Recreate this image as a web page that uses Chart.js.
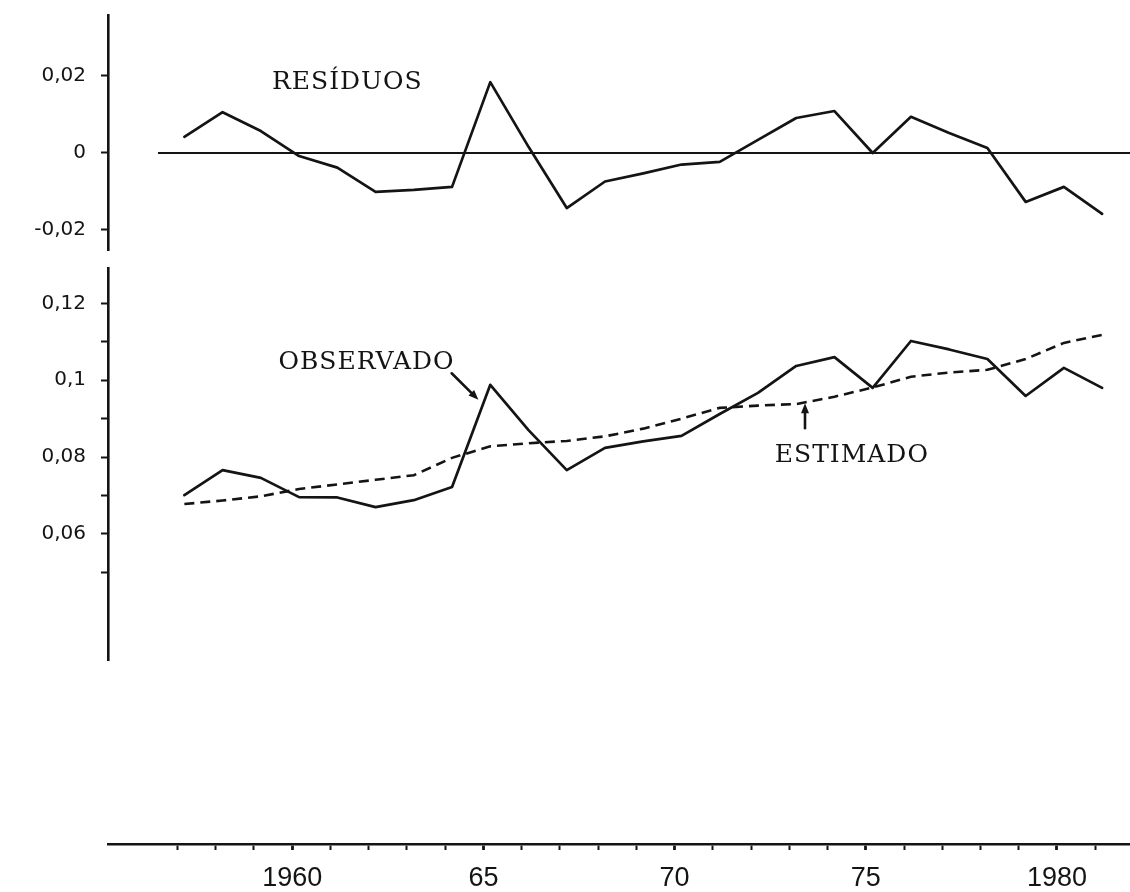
<!DOCTYPE html>
<html lang="pt">
<head>
<meta charset="utf-8">
<title>Resíduos, observado e estimado</title>
<script src="https://cdn.jsdelivr.net/npm/chart.js@4.4.1/dist/chart.umd.min.js"></script>
<style>
  html, body { margin: 0; padding: 0; background: #ffffff; }
  #wrap { width: 1130px; height: 892px; }
</style>
</head>
<body>
<div id="wrap"><canvas id="chart" width="1130" height="892"></canvas></div>
<script>
// Annual series, 1957-1981
const years = [1957, 1958, 1959, 1960, 1961, 1962, 1963, 1964, 1965, 1966, 1967, 1968, 1969,
               1970, 1971, 1972, 1973, 1974, 1975, 1976, 1977, 1978, 1979, 1980, 1981];

const residuos = [0.0042, 0.0106, 0.0057, -0.0008, -0.0038, -0.0101, -0.0096, -0.0088, 0.0184,
                  0.0016, -0.0143, -0.0074, -0.0053, -0.0030, -0.0023, 0.0034, 0.0091, 0.0109,
                  0.0000, 0.0094, 0.0052, 0.0013, -0.0127, -0.0088, -0.0158];

const observado = [0.0701, 0.0766, 0.0746, 0.0696, 0.0695, 0.0670, 0.0688, 0.0722, 0.0988,
                   0.0870, 0.0766, 0.0824, 0.0841, 0.0855, 0.0912, 0.0967, 0.1037, 0.1060,
                   0.0980, 0.1102, 0.1080, 0.1055, 0.0959, 0.1032, 0.0980];

const estimado = [0.0678, 0.0687, 0.0698, 0.0717, 0.0729, 0.0741, 0.0753, 0.0798, 0.0828,
                  0.0836, 0.0842, 0.0854, 0.0874, 0.0900, 0.0928, 0.0934, 0.0938, 0.0957,
                  0.0981, 0.1009, 0.1020, 0.1027, 0.1055, 0.1097, 0.1118];

// Axis ticks and their labels
const resTicks = [-0.02, 0, 0.02];
const resTickLabels = ['-0,02', '0', '0,02'];
const obsTicks = [0.05, 0.06, 0.07, 0.08, 0.09, 0.10, 0.11, 0.12];
const obsTickLabels = ['', '0,06', '', '0,08', '', '0,1', '', '0,12'];
const yearTicks = years.slice();
const yearLabelAt = [1960, 1965, 1970, 1975, 1980];
const yearLabelText = ['1960', '65', '70', '75', '1980'];

// Text labels and pointer arrows, in data coordinates of each panel
const notes = [
  { text: 'RESÍDUOS',  axis: 'yRes', x: 1959.47, y: 0.0166 },
  { text: 'OBSERVADO', axis: 'yObs', x: 1959.64, y: 0.1028 },
  { text: 'ESTIMADO',  axis: 'yObs', x: 1972.62, y: 0.0788 }
];
const arrows = [
  { axis: 'yObs', from: [1964.17, 0.1018], to: [1964.87, 0.0949] },
  { axis: 'yObs', from: [1973.41, 0.0875], to: [1973.41, 0.0940] }
];

// Layout of the panels (pixels of the plot area) and scale windows
const AXIS_X = 108;          // left edge of plot area, where both y axes stand
const PLOT_TOP = 15;
const XAXIS_H = 48;
const X_MIN = 1955.183, X_MAX = 1981.909;
const RES_MIN = -0.025195, RES_MAX = 0.035844;
const OBS_MIN = 0.027230, OBS_MAX = 0.129181;
const PLOT_SHIFT = 0.18;     // annual values sit slightly after the year mark
const ZERO_FROM = 1956.49;

const INK = '#141414';
const pts = arr => years.map((yr, i) => ({ x: yr + PLOT_SHIFT, y: arr[i] }));
const near = (a, b) => Math.abs(a - b) < 1e-9;

// Fixed axis sizes, and no extra room reserved for overhanging tick labels
const noOverhang = s => { s.paddingTop = 0; s.paddingBottom = 0; s.paddingLeft = 0; s.paddingRight = 0; };
const leftWidth = s => { s.width = AXIS_X; noOverhang(s); };

const annotate = {
  id: 'annotate',
  afterDatasetsDraw(chart) {
    const ctx = chart.ctx;
    const xs = chart.scales.x;
    ctx.save();
    ctx.fillStyle = INK;
    ctx.strokeStyle = INK;
    ctx.font = '25px "DejaVu Serif"';
    ctx.textAlign = 'left';
    ctx.textBaseline = 'alphabetic';
    if ('letterSpacing' in ctx) ctx.letterSpacing = '1px';
    notes.forEach(n => {
      const ys = chart.scales[n.axis];
      ctx.fillText(n.text, xs.getPixelForValue(n.x), ys.getPixelForValue(n.y));
    });
    arrows.forEach(a => {
      const ys = chart.scales[a.axis];
      const x1 = xs.getPixelForValue(a.from[0]), y1 = ys.getPixelForValue(a.from[1]);
      const x2 = xs.getPixelForValue(a.to[0]),   y2 = ys.getPixelForValue(a.to[1]);
      const ang = Math.atan2(y2 - y1, x2 - x1);
      ctx.lineWidth = 2.6;
      ctx.lineCap = 'round';
      ctx.beginPath();
      ctx.moveTo(x1, y1);
      ctx.lineTo(x2 - 6 * Math.cos(ang), y2 - 6 * Math.sin(ang));
      ctx.stroke();
      ctx.beginPath();
      ctx.moveTo(x2, y2);
      ctx.lineTo(x2 - 10 * Math.cos(ang) + 4 * Math.sin(ang), y2 - 10 * Math.sin(ang) - 4 * Math.cos(ang));
      ctx.lineTo(x2 - 10 * Math.cos(ang) - 4 * Math.sin(ang), y2 - 10 * Math.sin(ang) + 4 * Math.cos(ang));
      ctx.closePath();
      ctx.fill();
    });
    ctx.restore();
  }
};

const yAxisCommon = {
  type: 'linear',
  position: 'left',
  stack: 'panels',
  afterFit: leftWidth,
  grid: { drawOnChartArea: false, drawTicks: true, tickLength: 7, tickColor: INK, tickWidth: 2 },
  border: { display: true, color: INK, width: 2.6 },
  ticks: { color: INK, padding: 15, font: { family: '"DejaVu Sans"', size: 20 } }
};

new Chart(document.getElementById('chart'), {
  type: 'line',
  data: {
    datasets: [
      {
        label: 'zero',
        yAxisID: 'yRes',
        data: [{ x: ZERO_FROM, y: 0 }, { x: X_MAX, y: 0 }],
        borderColor: INK, borderWidth: 2.2, pointRadius: 0
      },
      {
        label: 'Resíduos',
        yAxisID: 'yRes',
        data: pts(residuos),
        borderColor: INK, borderWidth: 2.7, pointRadius: 0,
        borderJoinStyle: 'round', borderCapStyle: 'round'
      },
      {
        label: 'Observado',
        yAxisID: 'yObs',
        data: pts(observado),
        borderColor: INK, borderWidth: 2.7, pointRadius: 0,
        borderJoinStyle: 'round', borderCapStyle: 'round'
      },
      {
        label: 'Estimado',
        yAxisID: 'yObs',
        data: pts(estimado),
        borderColor: INK, borderWidth: 2.6, pointRadius: 0,
        borderDash: [10, 6], borderCapStyle: 'butt'
      }
    ]
  },
  options: {
    responsive: false,
    animation: false,
    devicePixelRatio: 1,
    layout: { padding: { top: PLOT_TOP, left: 0, right: 0, bottom: 0 } },
    plugins: { legend: { display: false }, tooltip: { enabled: false }, title: { display: false } },
    elements: { line: { tension: 0 } },
    scales: {
      x: {
        type: 'linear',
        position: 'bottom',
        min: X_MIN, max: X_MAX,
        afterFit: s => { s.height = XAXIS_H; noOverhang(s); },
        afterBuildTicks: s => { s.ticks = yearTicks.map(v => ({ value: v })); },
        grid: {
          drawOnChartArea: false, drawTicks: true, tickLength: 6, tickColor: INK,
          tickWidth: ctx => (yearLabelAt.includes(ctx.tick && ctx.tick.value) ? 2.8 : 2)
        },
        border: { display: true, color: INK, width: 2.6 },
        ticks: {
          autoSkip: false, maxRotation: 0, color: INK, padding: 12,
          font: { family: '"Liberation Sans"', size: 27 },
          callback: v => { const i = yearLabelAt.indexOf(v); return i >= 0 ? yearLabelText[i] : ''; }
        }
      },
      yRes: Object.assign({}, yAxisCommon, {
        min: RES_MIN, max: RES_MAX, stackWeight: 235, weight: 4,
        afterBuildTicks: s => { s.ticks = resTicks.map(v => ({ value: v })); },
        ticks: Object.assign({}, yAxisCommon.ticks, {
          callback: v => { const i = resTicks.findIndex(t => near(t, v)); return i >= 0 ? resTickLabels[i] : ''; }
        })
      }),
      yGapA: {
        type: 'linear', position: 'left', stack: 'panels', stackWeight: 18, weight: 3,
        display: false, afterFit: leftWidth
      },
      yObs: Object.assign({}, yAxisCommon, {
        min: OBS_MIN, max: OBS_MAX, stackWeight: 392, weight: 2,
        afterBuildTicks: s => { s.ticks = obsTicks.map(v => ({ value: v })); },
        ticks: Object.assign({}, yAxisCommon.ticks, {
          callback: v => { const i = obsTicks.findIndex(t => near(t, v)); return i >= 0 ? obsTickLabels[i] : ''; }
        })
      }),
      yGapB: {
        type: 'linear', position: 'left', stack: 'panels', stackWeight: 184, weight: 1,
        display: false, afterFit: leftWidth
      }
    }
  },
  plugins: [annotate]
});
</script>
</body>
</html>
